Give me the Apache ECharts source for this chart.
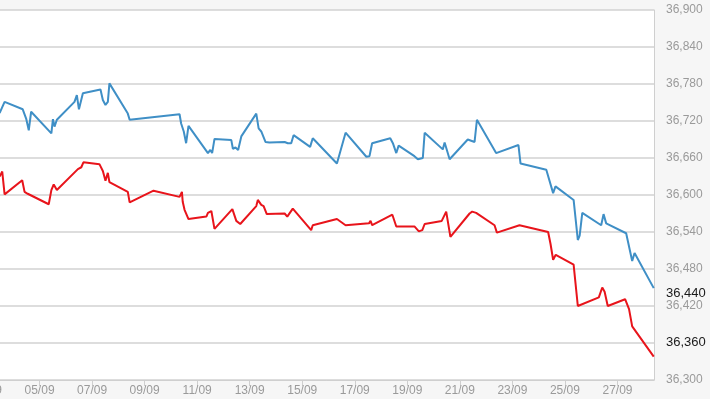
<!DOCTYPE html>
<html>
<head>
<meta charset="utf-8">
<script src="https://cdn.jsdelivr.net/npm/echarts@6/dist/echarts.min.js"></script>
<style>
  html, body { margin: 0; padding: 0; background: #f6f6f6; }
  #chart { width: 710px; height: 399px; }
</style>
</head>
<body>
<div id="chart"></div>
<script>
// x values are day-of-month (September), fractional
const blueDays = [3.48, 3.54, 3.67, 4.36, 4.49, 4.59, 4.68, 5.45, 5.51, 5.57, 5.66, 6.33, 6.42, 6.50, 6.65,
  7.32, 7.41, 7.51, 7.60, 7.66, 8.36, 8.43, 10.33, 10.39, 10.49, 10.58, 10.67, 11.41, 11.50, 11.57, 11.66,
  12.30, 12.36, 12.46, 12.56, 12.68, 13.25, 13.34, 13.44, 13.60, 13.75, 14.33, 14.45, 14.58, 14.67, 15.30,
  15.40, 16.32, 16.65, 17.44, 17.56, 17.66, 18.35, 18.45, 18.58, 18.67, 19.27, 19.40, 19.59, 19.66, 20.35,
  20.42, 20.61, 21.30, 21.43, 21.56, 21.65, 22.38, 23.23, 23.31, 24.29, 24.55, 24.64, 25.33, 25.49, 25.56,
  25.66, 26.38, 26.47, 26.57, 27.33, 27.56, 27.65, 28.38]
const blueValues = [36733, 36735, 36751, 36739, 36724, 36705, 36735, 36700, 36723, 36711, 36722, 36751, 36762, 36739, 36765,
  36771, 36754, 36746, 36751, 36781, 36732, 36722, 36731, 36716, 36703, 36684, 36712, 36668, 36673, 36668, 36691,
  36689, 36675, 36677, 36673, 36695, 36732, 36708, 36703, 36686, 36685, 36686, 36684, 36684, 36697, 36678,
  36692, 36651, 36701, 36662, 36663, 36684, 36692, 36684, 36668, 36680, 36663, 36658, 36660, 36701, 36674,
  36685, 36658, 36690, 36688, 36686, 36722, 36668, 36681, 36651, 36641, 36603, 36614, 36592, 36527, 36534,
  36571, 36551, 36569, 36554, 36538, 36493, 36506, 36449]

const redDays = [3.48, 3.58, 3.67, 4.34, 4.43, 4.55, 5.35, 5.45, 5.54, 5.66, 6.46, 6.59, 6.67, 7.28, 7.41,
  7.51, 7.60, 7.66, 8.36, 8.43, 9.34, 10.33, 10.42, 10.45, 10.52, 10.67, 11.35, 11.41, 11.47, 11.54, 11.66,
  12.34, 12.49, 12.64, 13.25, 13.31, 13.44, 13.53, 13.65, 14.33, 14.43, 14.64, 15.34, 15.40, 16.32, 16.65,
  17.54, 17.60, 17.66, 18.43, 18.58, 19.27, 19.44, 19.57, 19.66, 20.31, 20.48, 20.64, 21.37, 21.47, 21.62,
  22.32, 22.41, 23.27, 24.36, 24.45, 24.55, 24.65, 25.33, 25.49, 26.29, 26.42, 26.51, 26.63, 27.29, 27.44,
  27.56, 28.38]
const redValues = [36630, 36638, 36601, 36624, 36605, 36602, 36585, 36608, 36617, 36608, 36642, 36645, 36653, 36650, 36639,
  36623, 36636, 36621, 36605, 36588, 36607, 36597, 36605, 36589, 36576, 36561, 36565, 36571, 36568, 36574, 36545,
  36577, 36558, 36553, 36582, 36592, 36584, 36582, 36569, 36570, 36565, 36578, 36543, 36551, 36561, 36551,
  36554, 36558, 36551, 36568, 36549, 36549, 36541, 36543, 36553, 36558, 36573, 36532, 36570, 36573, 36571,
  36551, 36539, 36551, 36540, 36521, 36495, 36503, 36487, 36420, 36434, 36450, 36443, 36420, 36431, 36415,
  36387, 36338]

const tickDays = [3, 5, 7, 9, 11, 13, 15, 17, 19, 21, 23, 25, 27]
const lastLabels = [36440, 36360]

const pairs = (xs, ys) => xs.map((x, i) => [x, ys[i]])
const fmt = v => String(v).replace(/\B(?=(\d{3})+(?!\d))/g, ',')
const dayLabel = d => (d < 10 ? '0' + d : '' + d) + '/09'

const chart = echarts.init(document.getElementById('chart'))

chart.setOption({
  animation: false,
  backgroundColor: '#f6f6f6',
  textStyle: { fontFamily: 'Liberation Sans, Arial, sans-serif' },
  grid: {
    left: -13, right: 56, top: 10, bottom: 19,
    containLabel: false,
    outerBoundsMode: 'none',
    show: true, backgroundColor: '#fff', borderWidth: 0
  },
  xAxis: {
    type: 'value',
    min: 3,
    max: 28.39,
    axisLine: { show: true, lineStyle: { color: '#cfcfcf', width: 1 } },
    axisTick: { show: true, customValues: tickDays, length: 6, lineStyle: { color: '#cfcfcf' } },
    axisLabel: {
      customValues: tickDays,
      formatter: v => dayLabel(v),
      color: '#9a9a9a', fontSize: 12, margin: 5
    },
    splitLine: { show: false }
  },
  yAxis: {
    type: 'value',
    position: 'right',
    min: 36300,
    max: 36900,
    interval: 60,
    axisLine: { show: true, lineStyle: { color: '#cfcfcf' } },
    axisTick: { show: false },
    axisLabel: { formatter: v => fmt(v), color: '#9a9a9a', fontSize: 12, margin: 12 },
    splitLine: { lineStyle: { color: '#d2d2d2', width: 1.5 } }
  },
  series: [
    {
      type: 'line',
      data: pairs(blueDays, blueValues),
      showSymbol: false,
      lineStyle: { color: '#3f8fc6', width: 2 },
      itemStyle: { color: '#3f8fc6' }
    },
    {
      type: 'line',
      data: pairs(redDays, redValues),
      showSymbol: false,
      lineStyle: { color: '#e8141b', width: 2 },
      itemStyle: { color: '#e8141b' }
    }
  ]
})

// current-value labels on the right axis
chart.setOption({
  graphic: lastLabels.map(v => ({
    type: 'text',
    left: 664,
    top: chart.convertToPixel({ yAxisIndex: 0 }, v) - 7,
    z: 100,
    style: {
      text: fmt(v),
      fill: '#1a1a1a',
      font: '13px Liberation Sans, Arial, sans-serif',
      backgroundColor: '#f6f6f6',
      padding: [0, 2]
    }
  }))
})
</script>
</body>
</html>
